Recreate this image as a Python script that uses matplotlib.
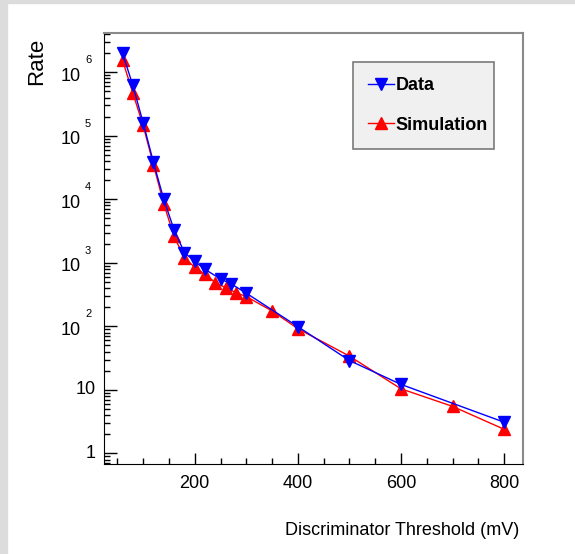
import numpy as np
import matplotlib
matplotlib.use("Agg")
import matplotlib.pyplot as plt
from matplotlib.ticker import MultipleLocator, LogLocator, NullFormatter
from matplotlib.transforms import blended_transform_factory, ScaledTranslation
from matplotlib.patches import Rectangle

plt.rcParams['font.family'] = ['Liberation Sans', 'DejaVu Sans']

# threshold (mV) and rates
data_x = [60, 80, 100, 120, 140, 160, 180, 200, 220, 250, 270, 300, 400, 500, 600, 800]
data_y = [2.0e6, 6.2e5, 1.6e5, 3.8e4, 1.0e4, 3.3e3, 1.45e3, 1.05e3, 790, 556, 470, 333, 99, 29, 12.2, 3.1]

sim_x = [60, 80, 100, 120, 140, 160, 180, 200, 220, 240, 260, 280, 300, 350, 400, 500, 600, 700, 800]
sim_y = [1.55e6, 4.7e5, 1.45e5, 3.5e4, 8.5e3, 2.6e3, 1.2e3, 850, 660, 490, 405, 340, 294, 175, 92, 34, 10.4, 5.5, 2.4]

decades = [0, 1, 2, 3, 4, 5, 6]

fig = plt.figure(figsize=(5.75, 5.54), dpi=100)
fig.patches.append(Rectangle((0, 0), 7 / 575, 1, transform=fig.transFigure,
                             color='#dcdcdc', zorder=-1))
fig.patches.append(Rectangle((0, 1 - 3 / 554), 1, 3 / 554, transform=fig.transFigure,
                             color='#dcdcdc', zorder=-1))

ax = fig.add_axes([0.1817, 0.1632, 0.7273, 0.7764])

ax.plot(sim_x, sim_y, color='#ff0000', lw=1, marker='^', ms=9, mec='#ff0000',
        mfc='#ff0000', label='Simulation', zorder=3)
ax.plot(data_x, data_y, color='#0000ff', lw=1, marker='v', ms=9, mec='#0000ff',
        mfc='#0000ff', label='Data', zorder=4)

ax.set_yscale('log')
ax.set_xlim(25, 836)
ax.set_ylim(10 ** -0.16, 10 ** 6.61)

ax.xaxis.set_major_locator(MultipleLocator(200))
ax.xaxis.set_minor_locator(MultipleLocator(50))
ax.yaxis.set_major_locator(LogLocator(base=10, numticks=20))
ax.yaxis.set_minor_locator(LogLocator(base=10, subs=np.arange(2, 10), numticks=20))
ax.yaxis.set_major_formatter(NullFormatter())
ax.yaxis.set_minor_formatter(NullFormatter())

ax.tick_params(axis='x', which='major', direction='in', length=7.6, width=1,
               labelsize=13, pad=8, top=False)
ax.tick_params(axis='x', which='minor', direction='in', length=4, width=1, top=False)
ax.tick_params(axis='y', which='major', direction='in', length=9, width=1, right=False)
ax.tick_params(axis='y', which='minor', direction='in', length=4.5, width=1, right=False)

for s in ['left', 'bottom']:
    ax.spines[s].set_color('black')
for s in ['top', 'right']:
    ax.spines[s].set_color('#8a8a8a')
    ax.spines[s].set_linewidth(1.5)

# ROOT style log labels: "10" with a small exponent up and to the right
trans = blended_transform_factory(ax.transAxes, ax.transData)
for k in decades:
    if k == 0:
        ax.text(0, 10 ** k, '1', fontsize=13, ha='right', va='center',
                transform=trans + ScaledTranslation(-0.085, 0, fig.dpi_scale_trans))
    elif k == 1:
        ax.text(0, 10 ** k, '10', fontsize=13, ha='right', va='center',
                transform=trans + ScaledTranslation(-0.085, 0, fig.dpi_scale_trans))
    else:
        ax.text(0, 10 ** k, '10', fontsize=13, ha='right', va='center',
                transform=trans + ScaledTranslation(-0.235, -0.04, fig.dpi_scale_trans))
        ax.text(0, 10 ** k, str(k), fontsize=8, ha='left', va='bottom',
                transform=trans + ScaledTranslation(-0.195, 0.07, fig.dpi_scale_trans))

fig.text(0.9026, 0.043, 'Discriminator Threshold (mV)', fontsize=13,
         ha='right', va='center')
fig.text(0.0635, 0.931, 'Rate', fontsize=16, rotation=90, ha='center', va='top')

handles, labels = ax.get_legend_handles_labels()
leg = ax.legend(handles[::-1], labels[::-1], loc='upper left',
                bbox_to_anchor=(0.594, 0.738, 0.338, 0.196), mode='expand',
                numpoints=1, handlelength=1.4, handletextpad=0.1,
                labelspacing=1.25, borderpad=0.85, borderaxespad=0,
                fancybox=False, framealpha=1,
                prop={'size': 13, 'weight': 'bold'})
leg.get_frame().set_facecolor('#f0f0f0')
leg.get_frame().set_edgecolor('#7a7a7a')
leg.get_frame().set_linewidth(1.2)

fig.savefig('out.png', dpi=100)
